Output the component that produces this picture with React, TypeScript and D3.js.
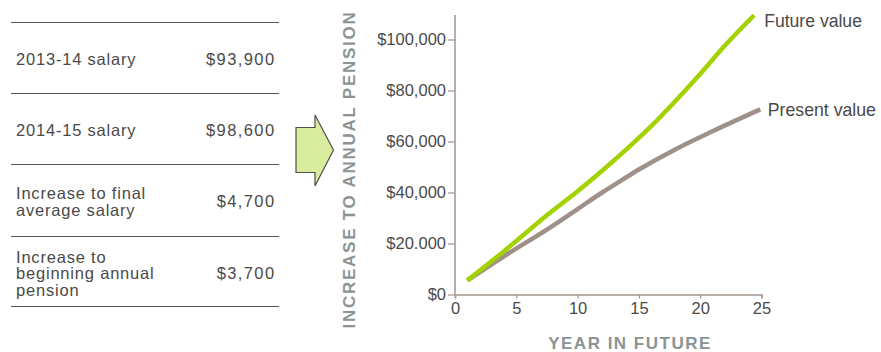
import React, { useEffect, useRef } from "react";
import * as d3 from "d3";

const futureYears = [1, 4, 8, 10, 12, 14, 16, 18, 20, 22, 24.4];
const futureValues = [5500, 17000, 33000, 40500, 48500, 57000, 66000, 76000, 86500, 97500, 109500];
const presentYears = [1, 4, 8, 10, 12, 13, 15, 18, 21, 24.9];
const presentValues = [5500, 15000, 27000, 33500, 40000, 43000, 49000, 57000, 64000, 72600];
const yTickValues = [0, 20000, 40000, 60000, 80000, 100000];
const yTickLabels = ["$0", "$20.000", "$40,000", "$60,000", "$80,000", "$100,000"];
const xTickValues = [0, 5, 10, 15, 20, 25];
const seriesNames = ["Future value", "Present value"];
const tableLabels = [["2013-14 salary"], ["2014-15 salary"], ["Increase to final", "average salary"], ["Increase to", "beginning annual", "pension"]];
const tableValues = ["$93,900", "$98,600", "$4,700", "$3,700"];

const W = 881, H = 352;
const GREEN = "#a2d200";
const GREY = "#9f908a";
const AXIS = "#a39590";
const LABEL = "#8a9494";
const TEXT = "#4a4a4a";
const FONT = "'Liberation Sans', Arial, Helvetica, sans-serif";

export default function App() {
  const ref = useRef<SVGSVGElement>(null);
  useEffect(() => {
    const svg = d3.select(ref.current);
    svg.selectAll("*").remove();
    const x = d3.scaleLinear().domain([0, 25]).range([455, 761.5]);
    const y = d3.scaleLinear().domain([0, 109600]).range([294.5, 15]);

    // Table
    const t = svg.append("g").attr("font-family", FONT).attr("font-size", 16.5).attr("fill", TEXT);
    const lineYs = [22.5, 93.5, 164.5, 236.5, 306.5];
    lineYs.forEach((ly) =>
      t.append("line").attr("x1", 11).attr("x2", 279).attr("y1", ly).attr("y2", ly)
        .attr("stroke", "#555").attr("stroke-width", 1)
    );
    const rowBase = [[65], [136], [199, 215.5], [262.5, 279, 295.5]];
    const valBase = [65, 136, 207, 279];
    tableLabels.forEach((lines, i) => {
      lines.forEach((s, j) => {
        t.append("text").attr("x", 16).attr("y", rowBase[i][j]).attr("letter-spacing", 0.8).text(s);
      });
      t.append("text").attr("x", 275.5).attr("y", valBase[i]).attr("text-anchor", "end")
        .attr("letter-spacing", 1.4).text(tableValues[i]);
    });

    // Arrow
    const ax0 = 296, ax1 = 315, atip = 333.5, cy = 150;
    svg.append("path")
      .attr("d", `M${ax0},${cy - 22.5} L${ax1},${cy - 22.5} L${ax1},${cy - 35} L${atip},${cy} L${ax1},${cy + 36} L${ax1},${cy + 22.5} L${ax0},${cy + 22.5} Z`)
      .attr("fill", "#d9eb9c").attr("stroke", "#4d4d4d").attr("stroke-width", 1.2);

    // Axes
    const yAxis = d3.axisLeft(y).tickValues(yTickValues)
      .tickFormat((d, i) => yTickLabels[i]).tickSizeOuter(0).tickSize(7).tickPadding(2);
    const gy = svg.append("g").attr("transform", `translate(${x(0)},0)`).call(yAxis);
    gy.select(".domain").remove();
    gy.append("line").attr("x1", 0).attr("x2", 0).attr("y1", y.range()[1]).attr("y2", y(0))
      .attr("stroke", AXIS).attr("stroke-width", 1.5);
    gy.selectAll(".tick line").attr("stroke", AXIS).attr("stroke-width", 1.2);
    gy.selectAll(".tick text").attr("font-family", FONT).attr("font-size", 16.5).attr("fill", TEXT);

    const xAxis = d3.axisBottom(x).tickValues(xTickValues).tickSizeOuter(0).tickSize(4).tickPadding(4);
    const gx = svg.append("g").attr("transform", `translate(0,${y(0)})`).call(xAxis);
    gx.select(".domain").attr("stroke", AXIS).attr("stroke-width", 1.5);
    gx.selectAll(".tick line").attr("stroke", AXIS).attr("stroke-width", 1.2);
    gx.selectAll(".tick text").attr("font-family", FONT).attr("font-size", 16.5).attr("fill", TEXT);

    // Axis titles
    svg.append("text")
      .attr("transform", `translate(355,${169.5}) rotate(-90)`)
      .attr("text-anchor", "middle").attr("font-family", FONT).attr("font-weight", "bold")
      .attr("font-size", 17).attr("letter-spacing", 1.75).attr("fill", LABEL)
      .text("INCREASE TO ANNUAL PENSION");
    svg.append("text")
      .attr("x", 630).attr("y", 348.5)
      .attr("text-anchor", "middle").attr("font-family", FONT).attr("font-weight", "bold")
      .attr("font-size", 17).attr("letter-spacing", 1.5).attr("fill", LABEL)
      .text("YEAR IN FUTURE");

    // Lines
    const line = d3.line<[number, number]>().x((d) => x(d[0])).y((d) => y(d[1])).curve(d3.curveMonotoneX);
    const presentData = presentYears.map((yr, i) => [yr, presentValues[i]] as [number, number]);
    const futureData = futureYears.map((yr, i) => [yr, futureValues[i]] as [number, number]);
    svg.append("path").attr("d", line(presentData)).attr("fill", "none")
      .attr("stroke", GREY).attr("stroke-width", 4.5);
    svg.append("path").attr("d", line(futureData)).attr("fill", "none")
      .attr("stroke", GREEN).attr("stroke-width", 4.5);

    // Series labels
    const fEnd = futureData[futureData.length - 1];
    const pEnd = presentData[presentData.length - 1];
    svg.append("text").attr("x", x(fEnd[0]) + 10).attr("y", y(fEnd[1]) + 12)
      .attr("font-family", FONT).attr("font-size", 17.6).attr("fill", TEXT).text(seriesNames[0]);
    svg.append("text").attr("x", x(pEnd[0]) + 7.5).attr("y", y(pEnd[1]) + 7)
      .attr("font-family", FONT).attr("font-size", 17.7).attr("fill", TEXT).text(seriesNames[1]);
  }, []);
  return (
    <svg ref={ref} width={W} height={H} style={{ position: "absolute", left: 0, top: 0, background: "#fff" }} />
  );
}
